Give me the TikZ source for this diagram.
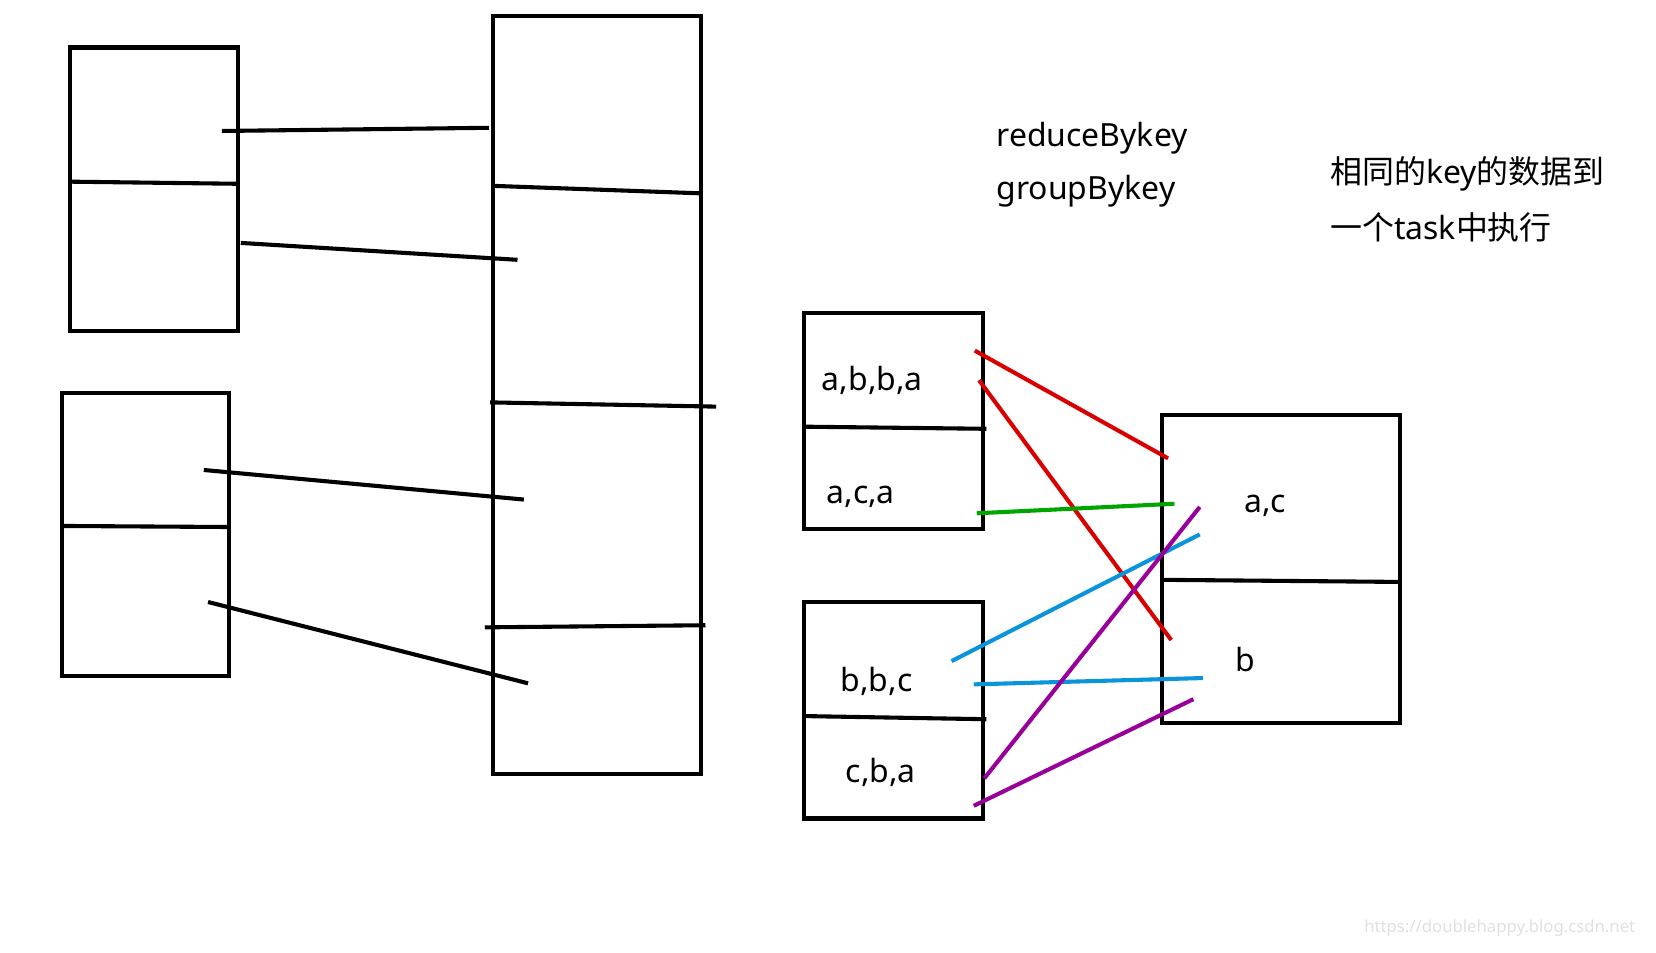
\documentclass[tikz,border=0pt]{standalone}
\usepackage{fontspec}
\setmainfont{Noto Sans}
\newfontfamily\cjk{Noto Sans CJK SC}
\begin{document}
\begin{tikzpicture}[x=0.01cm,y=-0.01cm,line width=1.1pt,
  box/.style={draw=black},
  lbl/.style={font=\fontsize{8.6}{10}\selectfont},
  wire/.style={line width=1.1pt}]
\useasboundingbox (0,0) rectangle (1568,902);

\draw[box] (66,45) rectangle (225,313);
\draw[box] (59,372) rectangle (217,640);
\draw[box] (467,15) rectangle (664,733);
\draw[box] (761,296) rectangle (931,501);
\draw[box] (761,570) rectangle (931,775);
\draw[box] (1100,393) rectangle (1326,685);

\draw (66,172) -- (225,174);
\draw (59,498) -- (217,499);
\draw (468,176) -- (662,183);
\draw (464,381) -- (678,385);
\draw (459,594) -- (668,592);
\draw (761,404) -- (934,406);
\draw (761,678) -- (934,681);
\draw (1100,549) -- (1326,551);

\coordinate (a1) at (210,124); \coordinate (t1) at (463,121);
\coordinate (a2) at (228,230); \coordinate (t2) at (490,246);
\coordinate (b1) at (193,445); \coordinate (t3) at (496,473);
\coordinate (b2) at (197,570); \coordinate (t4) at (500,647);
\draw[wire] (a1) -- (t1);
\draw[wire] (a2) -- (t2);
\draw[wire] (b1) -- (t3);
\draw[wire] (b2) -- (t4);

\node[lbl] (abba) at (826,360) {a,b,b,a};
\node[lbl] (aca) at (815,470) {a,c,a};
\node[lbl] (bbc) at (830,645) {b,b,c};
\node[lbl] (cba) at (834,731) {c,b,a};
\node[lbl] (ac) at (1198,479) {a,c};
\node[lbl] (b) at (1179,624) {b};

\coordinate (r1) at (923,332); \coordinate (r1e) at (1106,434);
\coordinate (r2) at (927,360); \coordinate (r2e) at (1109,606);
\coordinate (g1) at (925,486); \coordinate (g1e) at (1112,477);
\coordinate (u1) at (901,626); \coordinate (u1e) at (1136,506);
\coordinate (u2) at (922,648); \coordinate (u2e) at (1139,642);
\coordinate (p1) at (932,737); \coordinate (p1e) at (1136,480);
\coordinate (p2) at (922,763); \coordinate (p2e) at (1130,662);
\draw[wire,red!85!black] (r1) -- (r1e);
\draw[wire,red!85!black] (r2) -- (r2e);
\draw[wire,green!65!black] (g1) -- (g1e);
\draw[wire,cyan!80!blue] (u1) -- (u1e);
\draw[wire,cyan!80!blue] (u2) -- (u2e);
\draw[wire,violet!80!magenta] (p1) -- (p1e);
\draw[wire,violet!80!magenta] (p2) -- (p2e);

\node[lbl,anchor=west] (reduce) at (930,131) {reduceBykey};
\node[lbl,anchor=west] (group) at (930,181) {groupBykey};
\node[lbl,anchor=west] (note1) at (1246,165) {{\cjk 相同的}key{\cjk 的数据到}};
\node[lbl,anchor=west] (note2) at (1246,215) {{\cjk 一个}task{\cjk 中执行}};
\node[anchor=east,font=\fontsize{4.5}{5}\selectfont,black!12] (mark) at (1562,879) {https://doublehappy.blog.csdn.net};
\end{tikzpicture}
\end{document}
